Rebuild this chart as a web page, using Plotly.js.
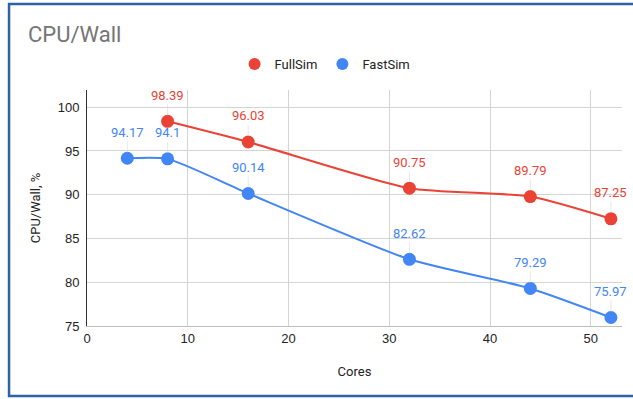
<!DOCTYPE html>
<html>
<head>
<meta charset="utf-8">
<script src="https://cdn.plot.ly/plotly-3.0.1.min.js"></script>
<style>
  html, body { margin: 0; padding: 0; background: #fff; }
  #chart { width: 633px; height: 399px; }
</style>
</head>
<body>
<div id="chart"></div>
<script>
// Core counts and CPU/Wall efficiency (%) per simulation type
const fullSimCores = [8, 16, 32, 44, 52];
const fullSimValues = [98.39, 96.03, 90.75, 89.79, 87.25];
const fastSimCores = [4, 8, 16, 32, 44, 52];
const fastSimValues = [94.17, 94.1, 90.14, 82.62, 79.29, 75.97];

const xTicks = [0, 10, 20, 30, 40, 50];
const yTicks = [75, 80, 85, 90, 95, 100];

const RED = '#ea4335';
const BLUE = '#4285f4';

function seriesTrace(name, xs, ys, color) {
  return {
    type: 'scatter',
    mode: 'lines+markers',
    name: name,
    x: xs,
    y: ys,
    line: { color: color, width: 2, shape: 'spline', smoothing: 0.6 },
    marker: { color: color, size: 13 },
    showlegend: false,
    hoverinfo: 'x+y'
  };
}

// Legend entries drawn as plain dots
function legendTrace(name, color) {
  return {
    type: 'scatter',
    mode: 'markers',
    name: name,
    x: [null],
    y: [null],
    marker: { color: color, size: 13 },
    showlegend: true
  };
}

function valueLabels(xs, ys, color) {
  return xs.map((x, i) => ({
    x: x,
    y: ys[i],
    xref: 'x',
    yref: 'y',
    text: String(ys[i]),
    showarrow: true,
    arrowhead: 0,
    arrowwidth: 0.6,
    arrowcolor: '#d9d9d9',
    ax: 0,
    ay: -26,
    standoff: 6,
    font: { family: 'Roboto, Arial, sans-serif', size: 13, color: color }
  }));
}

const traces = [
  seriesTrace('FullSim', fullSimCores, fullSimValues, RED),
  seriesTrace('FastSim', fastSimCores, fastSimValues, BLUE),
  legendTrace('FullSim', RED),
  legendTrace('FastSim', BLUE)
];

const layout = {
  width: 633,
  height: 399,
  margin: { l: 87, r: 11, t: 90, b: 73 },
  paper_bgcolor: '#ffffff',
  plot_bgcolor: '#ffffff',
  title: {
    text: 'CPU/Wall',
    x: 28 / 633,
    xanchor: 'left',
    xref: 'container',
    y: 1 - 34 / 399,
    yanchor: 'middle',
    yref: 'container',
    font: { family: 'Roboto, Arial, sans-serif', size: 22, color: '#757575' }
  },
  showlegend: true,
  legend: {
    orientation: 'h',
    x: 0.445,
    xanchor: 'center',
    y: 1 - 64 / 399,
    yanchor: 'middle',
    yref: 'container',
    font: { family: 'Roboto, Arial, sans-serif', size: 13, color: '#222222' },
    itemsizing: 'constant',
    itemwidth: 30,
    tracegroupgap: 0
  },
  xaxis: {
    range: [0, 53.1],
    tickvals: xTicks,
    ticktext: xTicks.map(String),
    showgrid: true,
    gridcolor: '#d4d4d4',
    gridwidth: 1,
    zeroline: false,
    showline: true,
    linecolor: '#bdbdbd',
    linewidth: 1,
    ticks: '',
    tickfont: { family: 'Liberation Sans, Arial, sans-serif', size: 13, color: '#222222' },
    title: {
      text: 'Cores',
      font: { family: 'Roboto, Arial, sans-serif', size: 13, color: '#222222' },
      standoff: 22
    }
  },
  yaxis: {
    range: [75, 101.97],
    tickvals: yTicks,
    ticktext: yTicks.map(String),
    showgrid: true,
    gridcolor: '#d4d4d4',
    gridwidth: 1,
    zeroline: false,
    showline: true,
    linecolor: '#333333',
    linewidth: 1,
    ticks: '',
    ticklabelstandoff: 4,
    tickfont: { family: 'Liberation Sans, Arial, sans-serif', size: 13, color: '#222222' },
    title: {
      text: 'CPU/Wall, %',
      font: { family: 'Roboto, Arial, sans-serif', size: 13, color: '#222222' },
      standoff: 14
    }
  },
  annotations: [
    ...valueLabels(fullSimCores, fullSimValues, RED),
    ...valueLabels(fastSimCores, fastSimValues, BLUE)
  ],
  shapes: [
    {
      type: 'rect',
      xref: 'paper',
      yref: 'paper',
      x0: -80 / 549,
      x1: 1.2,
      y0: -70 / 236,
      y1: 1 + 86 / 236,
      line: { color: '#2f62a3', width: 2.5 },
      fillcolor: 'rgba(0,0,0,0)',
      layer: 'above'
    }
  ]
};

Plotly.newPlot('chart', traces, layout, { displayModeBar: false, staticPlot: true });
</script>
</body>
</html>
